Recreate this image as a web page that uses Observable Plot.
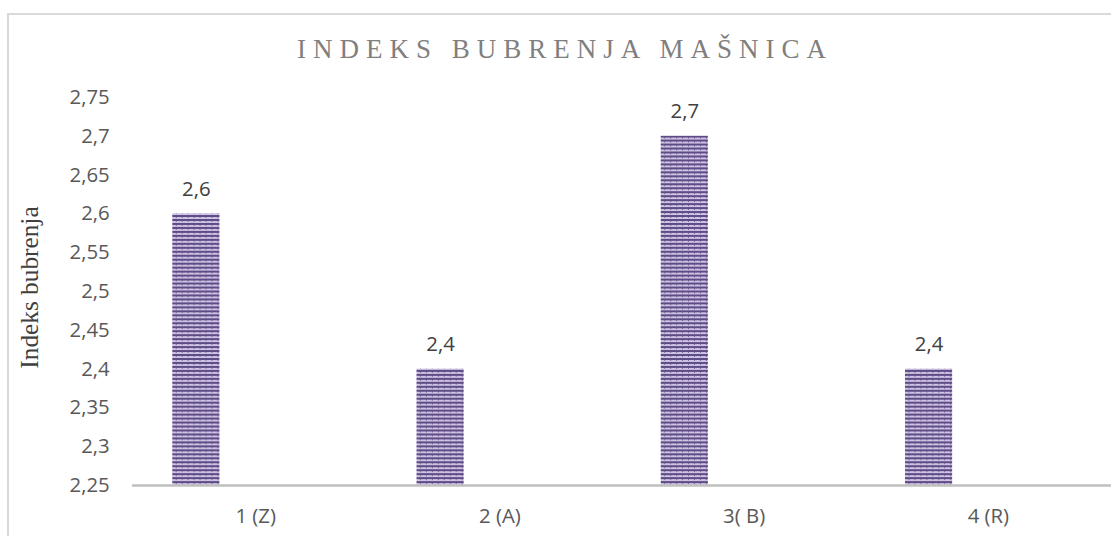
<!DOCTYPE html>
<html>
<head>
<meta charset="utf-8">
<script src="https://cdn.jsdelivr.net/npm/d3@7"></script>
<script src="https://cdn.jsdelivr.net/npm/@observablehq/plot@0.6"></script>
<style>
  html, body { margin: 0; padding: 0; background: #fff; overflow: hidden; width: 1111px; height: 536px; }
  #frame { position: absolute; left: 7px; top: 13px; width: 1200px; height: 600px; border: 2px solid #d9d9d9; box-sizing: border-box; }
  #title { position: absolute; left: 297px; top: 36px; margin: 0; font-family: "Liberation Serif", "Times New Roman", serif; font-size: 27px; line-height: 27px; letter-spacing: 7px; color: #7f7f7f; font-weight: normal; white-space: nowrap; }
  #chart { position: absolute; left: 0; top: 80px; }
</style>
</head>
<body>
<div id="frame"></div>
<h2 id="title">INDEKS BUBRENJA MAŠNICA</h2>
<div id="chart"></div>
<script>
const categories = ["1 (Z)", "2 (A)", "3( B)", "4 (R)"];
const values = [2.6, 2.4, 2.7, 2.4];
const yTicks = [2.25, 2.3, 2.35, 2.4, 2.45, 2.5, 2.55, 2.6, 2.65, 2.7, 2.75];
const yTitle = "Indeks bubrenja";

const data = categories.map((c, i) => ({cat: c, value: values[i]}));
const fmt = d => String(d).replace(".", ",");

const plot = Plot.plot({
  width: 1119,
  height: 456,
  marginLeft: 133,
  marginRight: 0,
  marginTop: 17,
  marginBottom: 48,
  style: {fontFamily: "'Open Sans', sans-serif", background: "transparent", overflow: "visible"},
  x: {domain: categories, padding: 0, label: null},
  y: {domain: [2.25, 2.75], label: null},
  marks: [
    Plot.barY(data, {x: "cat", y1: 2.25, y2: "value", fill: "url(#stripes)", insetLeft: 39.5, insetRight: 159}),
    Plot.ruleY([2.25], {stroke: "#bfbfbf", strokeWidth: 2.5}),
    Plot.axisY({ticks: yTicks, tickFormat: fmt, tickSize: 0, tickPadding: 23, fontSize: 20.5, color: "#595959", label: null}),
    Plot.axisX({tickSize: 0, tickPadding: 23, fontSize: 20.5, color: "#595959", label: null}),
    Plot.text(data, {x: "cat", y: "value", text: d => fmt(d.value), dx: -59.75, dy: -25, fontSize: 20.5, fill: "#404040"}),
    Plot.text([yTitle], {frameAnchor: "left", textAnchor: "middle", text: d => d, rotate: -90, dx: -103, dy: -4, fontSize: 25.5, fontFamily: "'Liberation Serif', 'Times New Roman', serif", fill: "#404040"})
  ]
});

// stripe pattern definition
const ns = "http://www.w3.org/2000/svg";
const defs = document.createElementNS(ns, "defs");
defs.innerHTML = `
  <pattern id="stripes" patternUnits="userSpaceOnUse" width="6" height="4">
    <rect x="0" y="0" width="6" height="4" fill="#cdc3e2"/>
    <rect x="0" y="0" width="6" height="2" fill="#5f4b86"/>
    <rect x="3" y="2" width="1" height="1" fill="#7d6aa0"/>
  </pattern>`;
plot.insertBefore(defs, plot.firstChild);

document.getElementById("chart").appendChild(plot);
</script>
</body>
</html>
